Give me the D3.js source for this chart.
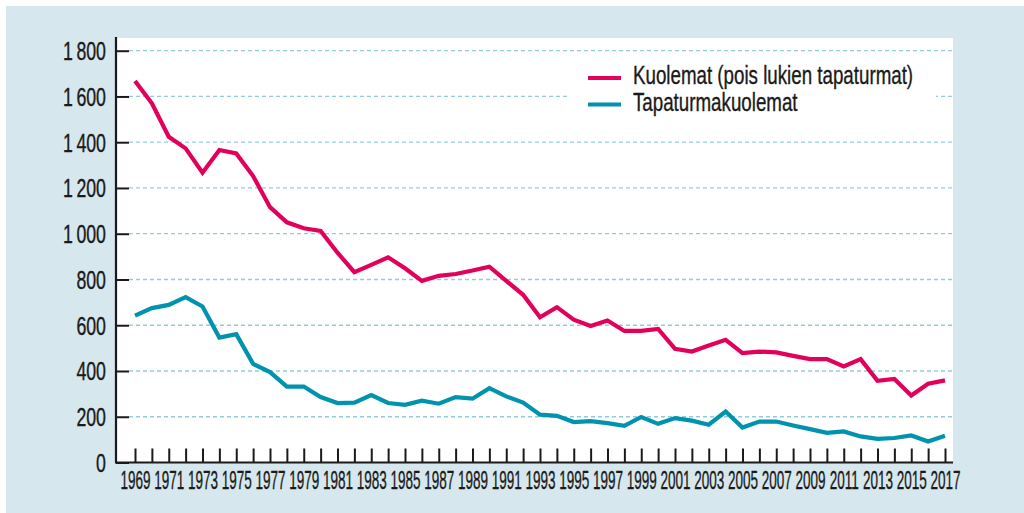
<!DOCTYPE html>
<html>
<head>
<meta charset="utf-8">
<script src="https://cdn.jsdelivr.net/npm/d3@7"></script>
<style>
  body { margin: 0; background: #fff; }
  text { font-family: "Liberation Sans", Arial, sans-serif; fill: #1a1a1a; stroke: #1a1a1a; stroke-width: 0.35px; }
</style>
</head>
<body>
<div id="chart"></div>
<script>
// data
var years = d3.range(1969, 2018)
var kuolemat = [1668, 1570, 1424, 1373, 1267, 1366, 1351, 1252, 1116, 1050,
  1024, 1012, 917, 832, 864, 897, 849, 794, 816, 824,
  839, 856, 794, 733, 635, 679, 624, 597, 621, 575,
  575, 584, 497, 485, 511, 536, 478, 485, 481, 466,
  452, 452, 420, 452, 357, 365, 293, 344, 359]
var tapaturmat = [642, 675, 689, 723, 682, 546, 561, 431, 395, 332,
  332, 286, 260, 262, 295, 260, 252, 270, 257, 286,
  279, 325, 289, 262, 209, 204, 177, 181, 172, 160,
  199, 169, 194, 183, 165, 223, 153, 179, 179, 162,
  146, 130, 136, 114, 103, 107, 118, 92, 117]
var yTicks = [0, 200, 400, 600, 800, 1000, 1200, 1400, 1600, 1800]
var seriesNames = ["Kuolemat (pois lukien tapaturmat)", "Tapaturmakuolemat"]
var colors = ["#e2005b", "#0093ad"]

var W = 1024, H = 513
var margin = { top: 38, right: 71, bottom: 51, left: 116 }

var svg = d3.select("#chart").append("svg")
    .attr("width", W)
    .attr("height", H)

// backgrounds
svg.append("rect").attr("x", 6).attr("y", 6).attr("width", W - 6).attr("height", H - 6)
    .attr("fill", "#d6e7ee")
svg.append("rect").attr("x", margin.left).attr("y", margin.top)
    .attr("width", W - margin.left - margin.right)
    .attr("height", H - margin.top - margin.bottom)
    .attr("fill", "#fff")

var x = d3.scaleLinear().domain([1969, 2017]).range([135, 945])
var y = d3.scaleLinear().domain([0, 1800]).range([462.5, 50.7])

var fi = d3.formatLocale({ decimal: ",", thousands: "\u2009", grouping: [3], currency: ["", ""] })
var fmt = fi.format(",d")

// gridlines
svg.append("g").selectAll("line")
    .data(yTicks.slice(1))
    .join("line")
    .attr("x1", margin.left + 13).attr("x2", W - margin.right)
    .attr("y1", d => y(d)).attr("y2", d => y(d))
    .attr("stroke", "#93cbdc")
    .attr("stroke-width", 1.3)
    .attr("stroke-dasharray", "4,3")

// y axis
var yAxis = svg.append("g")
    .attr("transform", "translate(" + margin.left + ",0)")
    .call(d3.axisLeft(y).tickValues(yTicks).tickSize(-13).tickPadding(0).tickFormat(fmt))
yAxis.select(".domain").remove()
yAxis.selectAll(".tick line").attr("stroke", "#1a1a1a").attr("stroke-width", 2)
yAxis.selectAll(".tick text")
    .attr("x", null)
    .attr("transform", "translate(-10,0) scale(0.71,1)")
    .style("font-size", "25px")
    .attr("dy", "0.36em")
yAxis.append("line")
    .attr("x1", 0).attr("x2", 0)
    .attr("y1", margin.top - 1).attr("y2", y(0))
    .attr("stroke", "#1a1a1a").attr("stroke-width", 2.2)

// x axis
var xAxis = svg.append("g")
    .attr("transform", "translate(0," + y(0) + ")")
    .call(d3.axisBottom(x).tickValues(years).tickSize(-14)
      .tickFormat(d => (d % 2 === 1 ? d : "")))
xAxis.select(".domain").remove()
xAxis.selectAll(".tick line").attr("stroke", "#1a1a1a").attr("stroke-width", 2)
xAxis.selectAll(".tick text")
    .attr("y", 0)
    .attr("dy", null)
    .attr("transform", "translate(0,26.5) scale(0.52,1)")
    .style("font-size", "26px")
xAxis.append("line")
    .attr("x1", margin.left - 1).attr("x2", W - margin.right)
    .attr("y1", 0).attr("y2", 0)
    .attr("stroke", "#1a1a1a").attr("stroke-width", 2.2)

// lines
var line = d3.line()
    .x((d, i) => x(years[i]))
    .y(d => y(d))

;[kuolemat, tapaturmat].forEach(function (s, i) {
  svg.append("path")
      .datum(s)
      .attr("fill", "none")
      .attr("stroke", colors[i])
      .attr("stroke-width", 4.2)
      .attr("stroke-linejoin", "miter")
      .attr("d", line)
})

// legend
var legend = svg.append("g").attr("transform", "translate(570,58)")
legend.append("rect").attr("width", 366).attr("height", 62).attr("fill", "#fff")
seriesNames.forEach(function (name, i) {
  var g = legend.append("g").attr("transform", "translate(18," + (20 + i * 26.6) + ")")
  g.append("line").attr("x1", 0).attr("x2", 33).attr("y1", 0).attr("y2", 0)
      .attr("stroke", colors[i]).attr("stroke-width", 4)
  g.append("text")
      .attr("transform", "translate(45,6) scale(0.75,1)")
      .style("font-size", "25px")
      .text(name)
})
</script>
</body>
</html>
